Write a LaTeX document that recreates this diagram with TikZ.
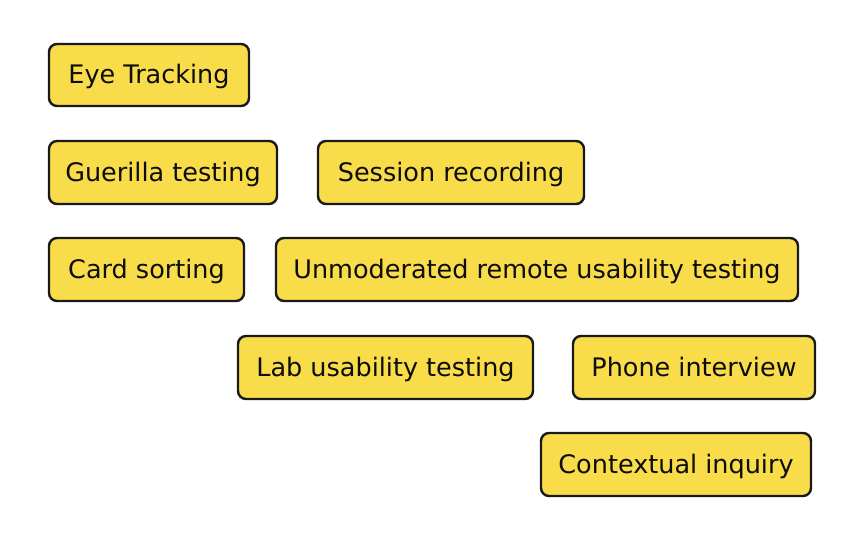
\documentclass[tikz,border=0pt]{standalone}
\usepackage{fontspec}
\setmainfont{DejaVu Sans}
\begin{document}
\begin{tikzpicture}[x=1pt,y=-1pt,
  box/.style={draw=black!90, line width=2.4pt, fill=boxyellow, rounded corners=8pt, inner sep=0pt, font=\fontsize{25.5}{30}\selectfont, text=black!95, text height=18pt, text depth=0pt}]
\definecolor{boxyellow}{HTML}{F9DC4A}
\useasboundingbox[fill=white] (0,0) rectangle (864,540);
\node[box, minimum width=200pt, minimum height=62pt] (eye) at (149,75) {Eye Tracking};
\node[box, minimum width=228pt, minimum height=63pt] (guer) at (163,172.5) {Guerilla testing};
\node[box, minimum width=266pt, minimum height=63pt] (sess) at (451,172.5) {Session recording};
\node[box, minimum width=195pt, minimum height=63pt] (card) at (146.5,269.5) {Card sorting};
\node[box, minimum width=522pt, minimum height=63pt] (unmod) at (537,269.5) {Unmoderated remote usability testing};
\node[box, minimum width=295pt, minimum height=63pt] (lab) at (385.5,367.5) {Lab usability testing};
\node[box, minimum width=242pt, minimum height=63pt] (phone) at (694,367.5) {Phone interview};
\node[box, minimum width=270pt, minimum height=63pt] (ctx) at (676,464.5) {Contextual inquiry};
\end{tikzpicture}
\end{document}
